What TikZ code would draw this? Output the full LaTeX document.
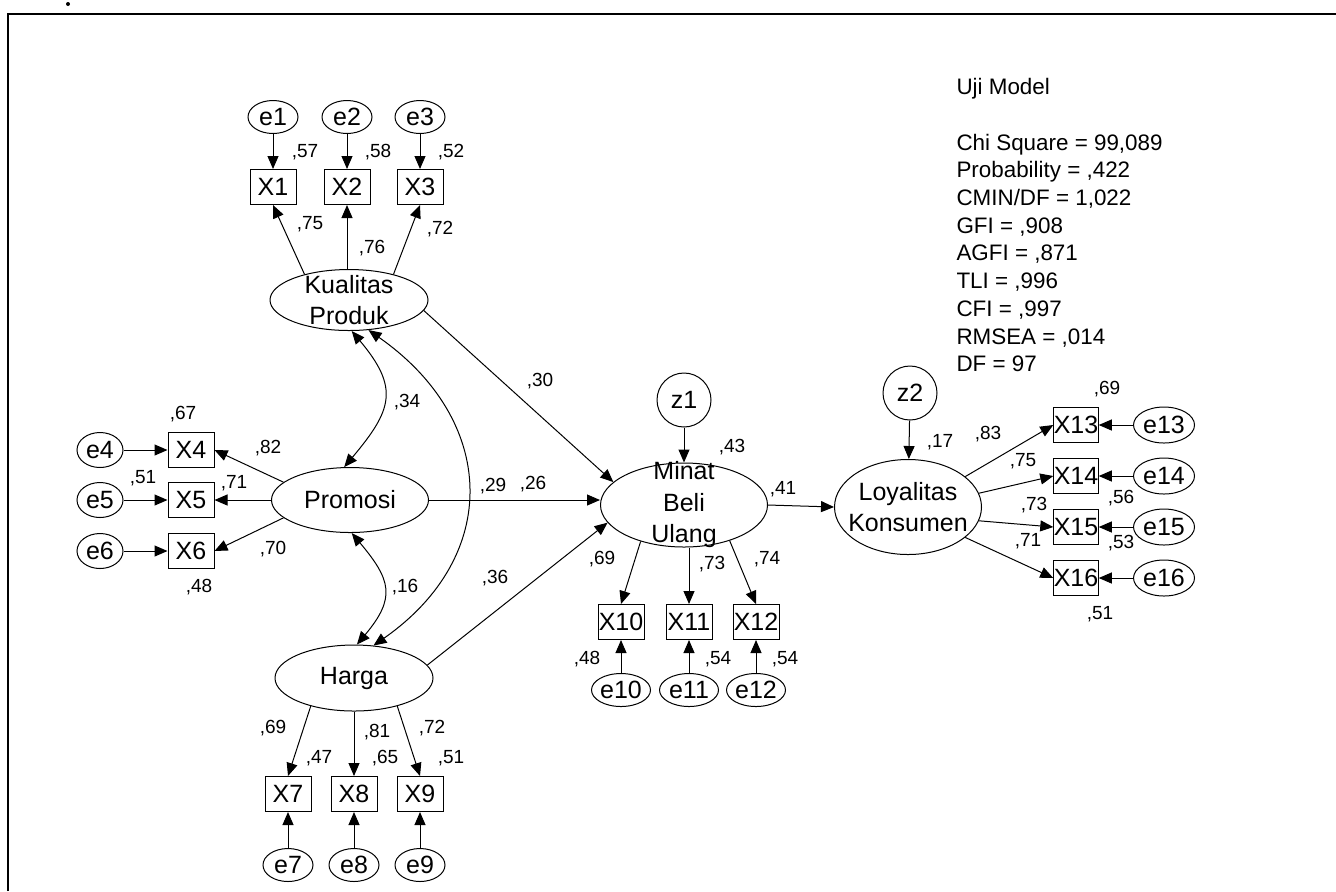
\documentclass[tikz,border=0pt]{standalone}
\usepackage{fontspec}
\setmainfont{Liberation Sans}
\usetikzlibrary{arrows.meta,shapes.geometric}

\begin{document}
\begin{tikzpicture}[x=0.5pt,y=0.5pt,line width=0.5pt,
    every node/.style={font=\fontsize{12.5}{15.75}\selectfont},
    lat/.style={ellipse,draw,inner sep=0pt},
    ltxt/.style={align=center,inner sep=0pt},
    obs/.style={rectangle,draw,inner sep=0pt,minimum width=23pt,minimum height=17.5pt},
    err/.style={ellipse,draw,inner sep=0pt,minimum width=25pt,minimum height=16.5pt},
    res/.style={circle,draw,inner sep=0pt,minimum size=27pt},
    lbl/.style={inner sep=0pt,text height=6.8pt,text depth=0pt,font=\fontsize{9.5}{11}\selectfont},
    stats/.style={align=left,inner sep=0pt,font=\fontsize{11.2}{13.85}\selectfont},
    arr/.style={-{Triangle[length=6.5pt,width=5.5pt]}},
    cov/.style={{Triangle[length=6.5pt,width=5.5pt]}-{Triangle[length=6.5pt,width=5.5pt]}}]

    \useasboundingbox (0,0) rectangle (1336,-891);
    \draw[line width=1.2pt] (8,-891) -- (8,-14) -- (1336,-14);
    \fill (68,-4) circle (1pt);

    \node[lat,minimum width=79pt,minimum height=30.5pt,label={[ltxt]center:Kualitas\\Produk}] (kp) at (349,-300) {};
    \node[lat,minimum width=78.5pt,minimum height=32.5pt,label={[ltxt]center:Promosi}] (pr) at (350,-500) {};
    \node[lat,minimum width=79pt,minimum height=33pt,label={[ltxt]center:Harga}] (hg) at (354,-678) {};
    \node[lat,minimum width=83.5pt,minimum height=42pt,label={[ltxt]center:Minat\\Beli\\Ulang}] (mb) at (684,-505) {};
    \node[lat,minimum width=73.5pt,minimum height=47.5pt,label={[ltxt]center:Loyalitas\\Konsumen}] (lk) at (908,-507) {};
    \node[res] (z1) at (684,-400) {z1};
    \node[res] (z2) at (910,-393) {z2};

    \foreach \i/\x in {1/273,2/347,3/420} {
        \node[err] (e\i) at (\x,-117) {e\i};
        \node[obs] (x\i) at (\x,-187) {X\i};
        \draw[arr] (e\i) -- (x\i);}
    \foreach \i/\y in {4/450,5/500,6/551} {
        \node[err,minimum width=23pt,minimum height=17.5pt] (e\i) at (100,-\y) {e\i};
        \node[obs] (x\i) at (191,-\y) {X\i};
        \draw[arr] (e\i) -- (x\i);}
    \foreach \i/\x in {7/288,8/354,9/420} {
        \node[err] (e\i) at (\x,-865) {e\i};
        \node[obs] (x\i) at (\x,-794) {X\i};
        \draw[arr] (e\i) -- (x\i);}
    \foreach \i/\x in {10/621,11/689,12/756} {
        \node[err,minimum width=29.5pt] (e\i) at (\x,-690) {e\i};
        \node[obs] (x\i) at (\x,-622) {X\i};
        \draw[arr] (e\i) -- (x\i);}
    \foreach \i/\y in {13/425,14/476,15/527,16/578} {
        \node[err,minimum width=30.5pt,minimum height=18pt] (e\i) at (1164,-\y) {e\i};
        \node[obs,minimum width=22pt] (x\i) at (1076,-\y) {X\i};
        \draw[arr] (e\i) -- (x\i);}

    \draw[arr] (kp.150) -- (x1.south);
    \draw[arr] (kp.north -| x2) -- (x2.south);
    \draw[arr] (kp.30) -- (x3.south);
    \draw[arr] (pr.165) -- (x4.east);
    \draw[arr] (pr.west) -- (x5.east);
    \draw[arr] (pr.195) -- (x6.east);
    \draw[arr] (hg.213) -- (x7.north);
    \draw[arr] (hg.south -| x8) -- (x8.north);
    \draw[arr] (hg.-33) -- (x9.north);
    \draw[arr] (mb.220) -- (x10.north);
    \draw[arr] (mb.south -| x11) -- (x11.north);
    \draw[arr] (mb.-38) -- (x12.north);
    \foreach \a/\i in {28/13,11/14,-11/15,-28/16}
        \draw[arr] (lk.\a) -- (x\i.west);

    \draw[arr] (kp.-8) -- (mb.162);
    \draw[arr] (pr.east) -- (mb.west |- pr.east);
    \draw[arr] (hg.10) -- (mb.193);
    \draw[arr] (mb.east) -- (lk.west);
    \draw[arr] (z1) -- (mb);
    \draw[arr] (z2) -- (lk);

    \draw[cov] (kp.-85) to[out=-50,in=50,looseness=1.4] (pr.100);
    \draw[cov] (pr.-87) to[out=-50,in=50,looseness=1.4] (hg.85);
    \draw[cov] (kp.-57) to[out=-35,in=35,looseness=1.27] (hg.59);

    \foreach \px/\py/\v [count=\n] in {305/151/57,378/151/58,451/151/52,
            310/223/75,372/247/76,440/228/72,
            183/413/67,268/447/82,143/477/51,234/482/71,273/548/70,199/586/48,
            407/401/34,405/586/16,540/380/30,493/485/29,533/483/26,495/577/36,
            273/727/69,319/757/47,377/731/81,385/757/65,432/727/72,451/757/51,
            732/446/43,783/488/41,602/558/69,712/563/73,767/558/74,
            587/658/48,718/658/54,785/658/54,
            940/441/17,988/433/83,1023/460/75,1034/504/73,1028/540/71,
            1107/388/69,1121/497/56,1121/542/53,1100/613/51}
        \node[lbl] (w\n) at (\px,-\py) {,\v};

    \node[stats,anchor=north west] (fit) at (956,-78) {Uji Model\\[13.85pt]Chi Square = 99,089\\Probability = ,422\\CMIN/DF = 1,022\\GFI = ,908\\AGFI = ,871\\TLI = ,996\\CFI = ,997\\RMSEA = ,014\\DF = 97};

\end{tikzpicture}
\end{document}
